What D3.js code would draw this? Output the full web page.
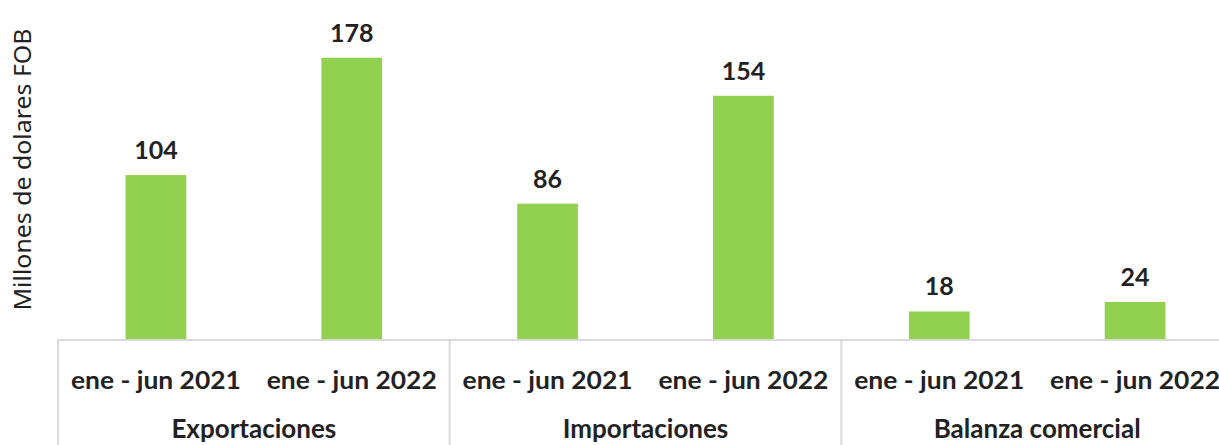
<!DOCTYPE html>
<html>
<head>
<meta charset="utf-8">
<script src="https://cdn.jsdelivr.net/npm/d3@7"></script>
<style>
  body { margin: 0; background: #fff; }
  svg { display: block; }
</style>
</head>
<body>
<div class="chart"></div>
<script>
const groups = ["Exportaciones", "Importaciones", "Balanza comercial"];
const periods = ["ene - jun 2021", "ene - jun 2022"];
const values2021 = [104, 86, 18];
const values2022 = [178, 154, 24];
const yTitle = "Millones de dolares FOB";

const width = 1219;
const height = 445;
const margin = {left: 58, right: -14, top: 0, baseline: 340};

const rows = groups.flatMap((g, i) => [
  {group: g, period: periods[0], value: values2021[i], key: g + "|" + periods[0]},
  {group: g, period: periods[1], value: values2022[i], key: g + "|" + periods[1]}
]);

const svg = d3.select(".chart")
  .append("svg")
  .attr("width", width)
  .attr("height", height);

const x0 = d3.scaleBand()
  .domain(groups)
  .range([margin.left, width - margin.right]);

const x = d3.scaleBand()
  .domain(rows.map(d => d.key))
  .range([margin.left, width - margin.right])
  .paddingInner(0.69)
  .paddingOuter(0.345);

const y = d3.scaleLinear()
  .domain([0, 178])
  .range([margin.baseline, 57.7]);

// bars
svg.append("g")
  .selectAll("rect")
  .data(rows)
  .join("rect")
  .attr("x", d => x(d.key))
  .attr("y", d => y(d.value))
  .attr("width", x.bandwidth())
  .attr("height", d => y(0) - y(d.value))
  .attr("fill", "#92d050");

// value labels
svg.append("g")
  .selectAll("text")
  .data(rows)
  .join("text")
  .attr("x", d => x(d.key) + x.bandwidth() / 2)
  .attr("y", d => y(d.value) - 16)
  .attr("text-anchor", "middle")
  .attr("font-family", "Lato, sans-serif")
  .attr("font-weight", "bold")
  .attr("font-size", "25px")
  .attr("fill", "#222")
  .text(d => d.value);

// axis line and group dividers
const axis = svg.append("g").attr("stroke", "#d9d9d9").attr("stroke-width", 2);
axis.append("line")
  .attr("x1", margin.left).attr("x2", width)
  .attr("y1", y(0)).attr("y2", y(0));
axis.selectAll(".divider")
  .data(groups)
  .join("line")
  .attr("class", "divider")
  .attr("x1", d => x0(d)).attr("x2", d => x0(d))
  .attr("y1", y(0)).attr("y2", height);

// period labels
svg.append("g")
  .selectAll("text")
  .data(rows)
  .join("text")
  .attr("x", d => x(d.key) + x.bandwidth() / 2)
  .attr("y", 389)
  .attr("text-anchor", "middle")
  .attr("font-family", "Lato, sans-serif")
  .attr("font-weight", "bold")
  .attr("font-size", "25px")
  .attr("textLength", 170)
  .attr("lengthAdjust", "spacingAndGlyphs")
  .attr("fill", "#222")
  .text(d => d.period);

// group labels
svg.append("g")
  .selectAll("text")
  .data(groups)
  .join("text")
  .attr("x", d => x0(d) + x0.bandwidth() / 2)
  .attr("y", 438)
  .attr("text-anchor", "middle")
  .attr("font-family", "Lato, sans-serif")
  .attr("font-weight", "bold")
  .attr("font-size", "26px")
  .attr("fill", "#222")
  .text(d => d);

// y title
svg.append("text")
  .attr("transform", `translate(31, ${(28 + 311) / 2}) rotate(-90)`)
  .attr("text-anchor", "middle")
  .attr("font-family", "'Noto Sans', sans-serif")
  .attr("font-size", "23px")
  .attr("textLength", 282)
  .attr("lengthAdjust", "spacingAndGlyphs")
  .attr("fill", "#222")
  .text(yTitle);
</script>
</body>
</html>
